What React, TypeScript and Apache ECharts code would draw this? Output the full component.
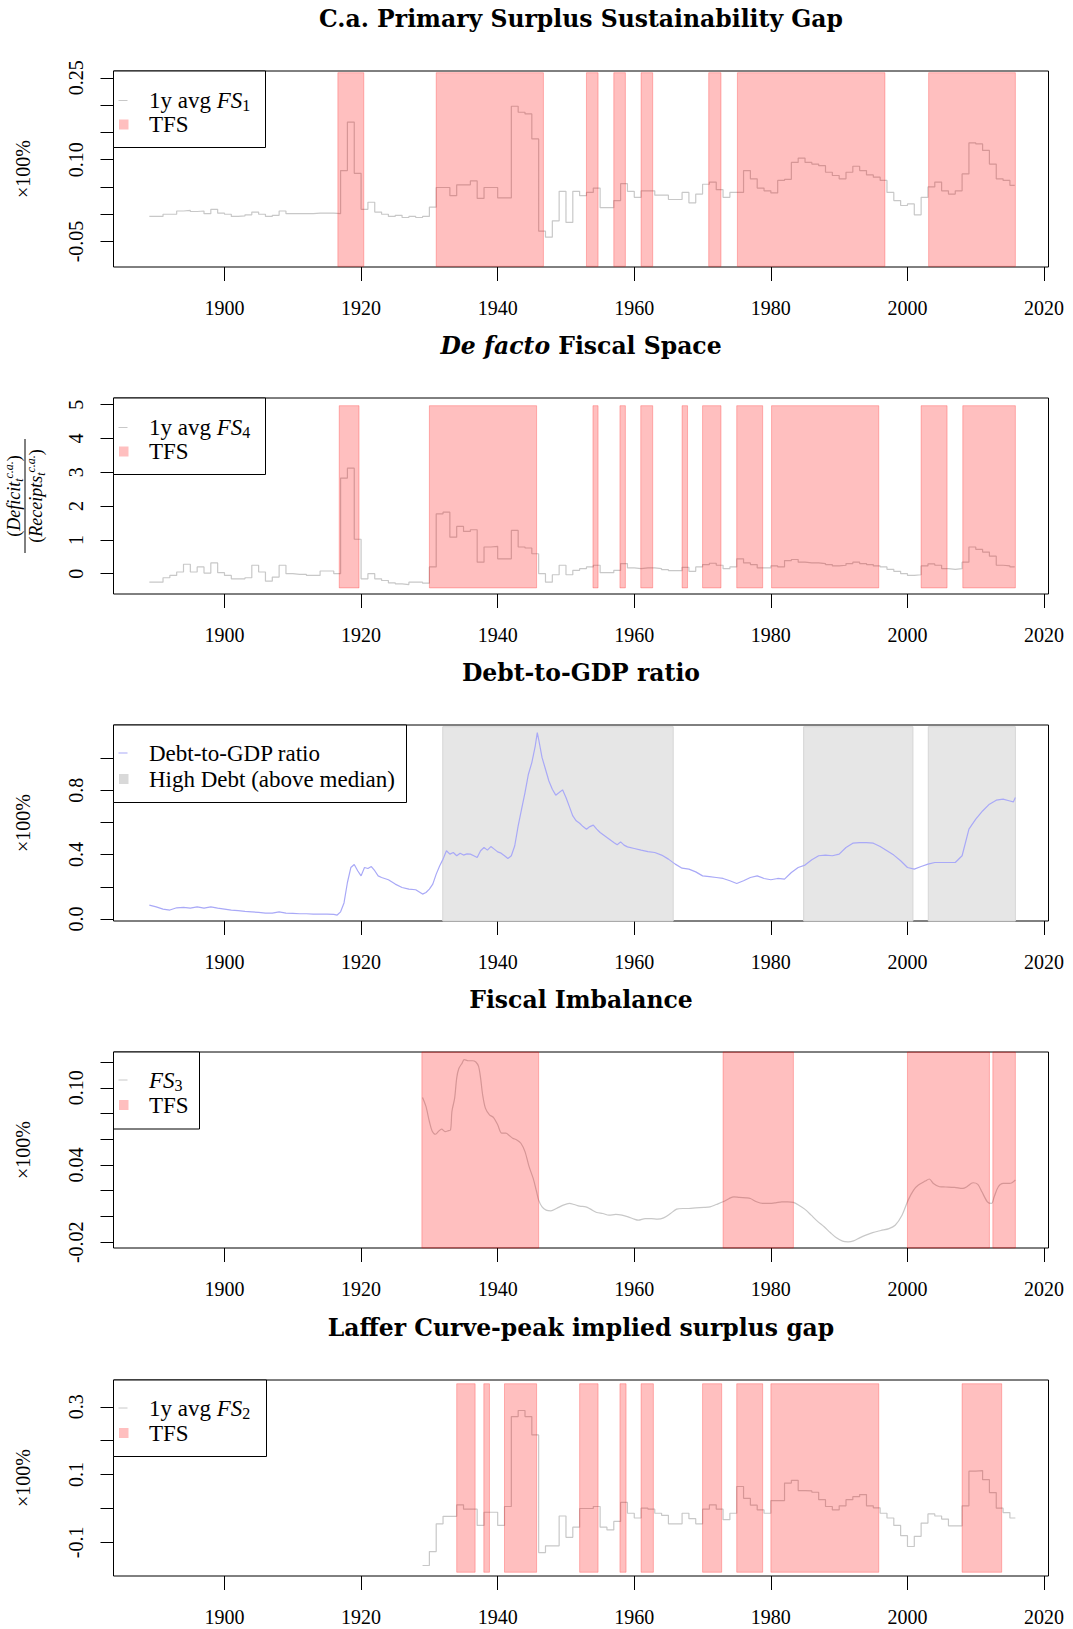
import { useEffect, useRef } from "react";
import * as echarts from "echarts";

const FONT = "'Liberation Serif', 'Times New Roman', serif";
const TITLE_FONT = "'DejaVu Serif', serif";

const X_MIN = 1883.75;
const X_MAX = 2020.65;
const X_TICKS = [1900, 1920, 1940, 1960, 1980, 2000, 2020];

// Panel 1: 1y avg FS1 (annual, from 1889)
const FS1_START = 1889;
const fs1 = [
  -0.004, -0.004, 0.0, 0.0, 0.006, 0.007, 0.005, 0.006, 0.001, 0.009, 0.002,
  0.0, -0.004, -0.003, -0.001, 0.004, 0.0, -0.004, -0.002, 0.006, 0.001,
  0.001, 0.001, 0.001, 0.002, 0.002, 0.002, 0.001, 0.08, 0.169, 0.075,
  0.009, 0.022, 0.004, 0.0, -0.004, -0.002, -0.006, -0.004, -0.006, -0.004,
  0.013, 0.049, 0.049, 0.034, 0.054, 0.054, 0.061, 0.029, 0.049, 0.049,
  0.03, 0.03, 0.198, 0.187, 0.184, 0.138, -0.031, -0.042, -0.012, 0.042,
  -0.015, 0.042, 0.034, 0.04, 0.048, 0.012, 0.012, 0.025, 0.056, 0.042,
  0.031, 0.043, 0.043, 0.035, 0.035, 0.027, 0.027, 0.04, 0.021, 0.037,
  0.055, 0.059, 0.045, 0.031, 0.04, 0.04, 0.08, 0.065, 0.048, 0.043,
  0.039, 0.062, 0.064, 0.095, 0.103, 0.095, 0.092, 0.089, 0.077, 0.071,
  0.065, 0.077, 0.088, 0.08, 0.072, 0.068, 0.062, 0.04, 0.025, 0.016,
  0.019, -0.001, 0.031, 0.05, 0.059, 0.043, 0.037, 0.043, 0.074, 0.131,
  0.129, 0.117, 0.092, 0.065, 0.062, 0.053,
];
const tfs1 = [
  [1916.6, 1920.4], [1931.0, 1946.7], [1953.0, 1954.7], [1957.0, 1958.7],
  [1961.0, 1962.7], [1970.9, 1972.7], [1975.1, 1996.7], [2003.1, 2015.8],
];

// Panel 2: 1y avg FS4 (annual, from 1889)
const FS4_START = 1889;
const fs4 = [
  -0.25, -0.25, -0.12, -0.05, 0.05, 0.28, 0.05, 0.2, 0.02, 0.32, 0.03,
  -0.05, -0.15, -0.15, -0.12, 0.25, 0.05, -0.22, -0.1, 0.25, 0.0,
  -0.02, -0.02, -0.05, -0.05, 0.08, 0.08, 0.0, 2.83, 3.12, 1.02,
  -0.15, 0.0, -0.15, -0.2, -0.27, -0.3, -0.32, -0.25, -0.25, -0.28,
  0.2, 1.77, 1.82, 1.08, 1.4, 1.25, 1.3, 0.34, 0.79, 0.81,
  0.44, 0.44, 1.28, 0.79, 0.76, 0.59, 0.0, -0.25, -0.03, 0.25,
  -0.03, 0.1, 0.15, 0.2, 0.25, 0.03, 0.03, 0.1, 0.3, 0.17,
  0.15, 0.17, 0.17, 0.15, 0.12, 0.09, 0.09, 0.19, 0.07, 0.2,
  0.27, 0.31, 0.25, 0.15, 0.2, 0.44, 0.32, 0.27, 0.17, 0.17,
  0.23, 0.2, 0.39, 0.42, 0.34, 0.32, 0.32, 0.3, 0.27, 0.23,
  0.25, 0.3, 0.34, 0.3, 0.27, 0.23, 0.2, 0.13, 0.07, 0.0,
  -0.05, -0.03, 0.23, 0.29, 0.25, 0.15, 0.13, 0.15, 0.34, 0.79,
  0.72, 0.64, 0.52, 0.25, 0.23, 0.2,
];
const tfs4 = [
  [1916.8, 1919.7], [1930.0, 1945.7], [1953.95, 1954.7], [1957.9, 1958.7],
  [1960.95, 1962.7], [1967.0, 1967.8], [1970.0, 1972.7], [1975.0, 1978.8],
  [1980.1, 1995.8], [2002.0, 2005.8], [2008.1, 2015.8],
];

// Panel 3: Debt-to-GDP ratio
const debtYears = [
  1889, 1890, 1891, 1892, 1893, 1894, 1895, 1896, 1897, 1898, 1899, 1900,
  1901, 1902, 1903, 1904, 1905, 1906, 1907, 1908, 1909, 1910, 1911, 1912,
  1913, 1914, 1915, 1916, 1916.5, 1917, 1917.5, 1918, 1918.5, 1919, 1919.5,
  1920, 1920.5, 1921, 1921.5, 1922, 1922.5, 1923, 1924, 1925, 1926, 1927,
  1928, 1929, 1929.5, 1930, 1930.5, 1931, 1931.5, 1932, 1932.5, 1933,
  1933.5, 1934, 1934.5, 1935, 1935.5, 1936, 1936.5, 1937, 1937.5, 1938,
  1938.5, 1939, 1939.5, 1940, 1940.5, 1941, 1941.5, 1942, 1942.5, 1943,
  1943.5, 1944, 1944.5, 1945, 1945.5, 1945.8, 1946, 1946.5, 1947, 1947.5,
  1948, 1948.5, 1949, 1949.5, 1950, 1950.5, 1951, 1951.5, 1952, 1952.5,
  1953, 1953.5, 1954, 1954.5, 1955, 1956, 1957, 1957.5, 1958, 1958.5, 1959,
  1960, 1961, 1962, 1963, 1964, 1965, 1966, 1967, 1968, 1969, 1970, 1971,
  1972, 1973, 1974, 1975, 1976, 1977, 1978, 1979, 1980, 1981, 1982, 1983,
  1984, 1985, 1986, 1987, 1988, 1989, 1990, 1991, 1992, 1993, 1994, 1995,
  1996, 1997, 1998, 1999, 2000, 2001, 2002, 2003, 2004, 2005, 2006, 2007,
  2008, 2009, 2010, 2011, 2012, 2013, 2014, 2015, 2015.5, 2015.8,
];
const debtValues = [
  0.087, 0.076, 0.062, 0.056, 0.07, 0.072, 0.068, 0.076, 0.068, 0.076, 0.068,
  0.062, 0.056, 0.052, 0.048, 0.045, 0.041, 0.037, 0.037, 0.045, 0.037,
  0.035, 0.033, 0.033, 0.031, 0.031, 0.031, 0.029, 0.025, 0.045, 0.1,
  0.227, 0.32, 0.339, 0.3, 0.268, 0.32, 0.314, 0.326, 0.3, 0.268, 0.258,
  0.244, 0.217, 0.196, 0.186, 0.182, 0.155, 0.165, 0.186, 0.217, 0.279,
  0.33, 0.372, 0.424, 0.403, 0.413, 0.393, 0.409, 0.397, 0.405, 0.403,
  0.393, 0.382, 0.424, 0.444, 0.428, 0.45, 0.434, 0.417, 0.409, 0.393,
  0.376, 0.393, 0.455, 0.579, 0.682, 0.785, 0.899, 0.971, 1.074, 1.157,
  1.116, 1.002, 0.93, 0.857, 0.806, 0.769, 0.785, 0.802, 0.754, 0.698,
  0.64, 0.61, 0.595, 0.574, 0.558, 0.574, 0.583, 0.558, 0.537, 0.506,
  0.475, 0.461, 0.479, 0.459, 0.448, 0.438, 0.428, 0.419, 0.413, 0.397,
  0.372, 0.341, 0.316, 0.31, 0.293, 0.268, 0.264, 0.258, 0.252, 0.238,
  0.221, 0.238, 0.258, 0.268, 0.252, 0.244, 0.252, 0.248, 0.289, 0.32,
  0.335, 0.368, 0.393, 0.397, 0.393, 0.403, 0.444, 0.471, 0.475, 0.475,
  0.471, 0.45, 0.424, 0.397, 0.362, 0.32, 0.31, 0.326, 0.341, 0.351,
  0.351, 0.351, 0.351, 0.393, 0.558, 0.62, 0.671, 0.713, 0.738, 0.744,
  0.733, 0.727, 0.754,
];
const highDebt = [[1931.96, 1965.7], [1984.8, 2000.8], [2003.05, 2015.8]];

// Panel 4: FS3
const fs3Years = [
  1929.0, 1929.5, 1930.0, 1930.4, 1930.9, 1931.4, 1931.8, 1932.3, 1932.7,
  1933.1, 1933.3, 1933.7, 1934.0, 1934.3, 1934.8, 1935.1, 1935.7, 1936.3,
  1936.8, 1937.2, 1937.5, 1937.8, 1938.2, 1938.8, 1939.4, 1940.0, 1940.6,
  1941.2, 1941.7, 1942.2, 1942.8, 1943.4, 1944.0, 1944.6, 1945.2, 1945.7,
  1946.0, 1946.5, 1947.1, 1947.8, 1948.6, 1949.6, 1950.5, 1951.2, 1952.0,
  1952.9, 1953.6, 1954.5, 1955.4, 1956.3, 1957.3, 1958.2, 1959.1, 1960.0,
  1960.6, 1961.6, 1962.5, 1963.4, 1964.3, 1965.3, 1966.2, 1967.1, 1968.0,
  1969.0, 1970.2, 1971.1, 1972.0, 1973.0, 1973.9, 1974.6, 1975.4, 1976.4,
  1977.0, 1977.9, 1978.8, 1979.8, 1980.7, 1981.6, 1982.5, 1983.3, 1984.1,
  1985.0, 1985.9, 1986.8, 1987.8, 1988.7, 1989.6, 1990.5, 1991.3, 1992.1,
  1993.0, 1993.9, 1994.9, 1996.1, 1997.3, 1998.2, 1999.2, 2000.1, 2000.9,
  2001.6, 2002.6, 2003.2, 2003.8, 2004.7, 2005.6, 2006.9, 2008.1, 2008.7,
  2009.6, 2010.3, 2010.9, 2011.7, 2012.3, 2012.7, 2013.3, 2014.0, 2014.9,
  2015.3, 2015.8,
];
const fs3Values = [
  0.0925, 0.0855, 0.0738, 0.0665, 0.0639, 0.0665, 0.0678, 0.066, 0.0665,
  0.0673, 0.0816, 0.092, 0.1075, 0.1148, 0.1192, 0.1218, 0.121, 0.121,
  0.12, 0.1166, 0.1075, 0.0945, 0.0842, 0.079, 0.0769, 0.0712, 0.0647,
  0.0647, 0.0629, 0.0608, 0.0595, 0.0569, 0.0504, 0.0387, 0.0296, 0.0192,
  0.0127, 0.0075, 0.0049, 0.0044, 0.0062, 0.0088, 0.0101, 0.0093, 0.008,
  0.0075, 0.0057, 0.0031, 0.0023, 0.001, 0.0016, 0.001, -0.0003, -0.0021,
  -0.0029, -0.0016, -0.0016, -0.0021, -0.0011, 0.0023, 0.0057, 0.0062, 0.0062,
  0.0067, 0.007, 0.0075, 0.0093, 0.0114, 0.014, 0.0153, 0.0148, 0.0145,
  0.014, 0.0114, 0.0101, 0.0101, 0.0106, 0.0114, 0.0114, 0.0109, 0.0088,
  0.0055, 0.001, -0.0036, -0.008, -0.0125, -0.0166, -0.0192, -0.0197, -0.019,
  -0.0166, -0.0145, -0.0125, -0.0109, -0.0094, -0.0068, 0.001, 0.0127, 0.0205,
  0.0244, 0.0275, 0.0291, 0.0257, 0.0231, 0.0229, 0.0226, 0.0218, 0.0231,
  0.0262, 0.0249, 0.0192, 0.0114, 0.0101, 0.0153, 0.0231, 0.0257, 0.0257,
  0.0262, 0.0283,
];
const tfs3 = [[1928.9, 1946.0], [1973.0, 1983.3], [2000.0, 2012.0], [2012.5, 2015.8]];

// Panel 5: 1y avg FS2 (annual, from 1929)
const FS2_START = 1929;
const fs2 = [
  -0.168, -0.127, -0.045, -0.023, -0.023, 0.011, -0.002, -0.002, -0.05, -0.011,
  -0.011, -0.05, 0.006, 0.271, 0.289, 0.271, 0.217, -0.13, -0.11, -0.11,
  -0.022, -0.085, -0.055, 0.0, 0.0, 0.006, -0.055, -0.063, -0.038, 0.018,
  -0.014, -0.028, 0.001, -0.002, -0.014, -0.02, -0.045, -0.045, -0.014, -0.03,
  -0.045, -0.002, 0.011, -0.002, -0.033, -0.014, 0.065, 0.03, 0.01, -0.004,
  -0.014, 0.023, 0.023, 0.075, 0.083, 0.053, 0.052, 0.048, 0.026, 0.006,
  -0.004, 0.008, 0.026, 0.035, 0.041, 0.008, 0.002, -0.014, -0.028, -0.05,
  -0.08, -0.112, -0.082, -0.043, -0.016, -0.022, -0.031, -0.051, -0.051, 0.008,
  0.11, 0.112, 0.085, 0.047, 0.001, -0.012, -0.028,
];
const tfs2 = [
  [1934.0, 1936.7], [1937.97, 1938.8], [1941.0, 1945.7], [1952.0, 1954.7],
  [1957.9, 1958.8], [1961.0, 1962.8], [1970.0, 1972.8], [1975.0, 1978.8],
  [1980.0, 1995.8], [2008.0, 2013.8],
];

const GRID_LEFT = 113.5;
const GRID_W = 935;
const GRID_H = 196;
const PANEL_TOPS = [71, 398, 725, 1052, 1380];

const GRAY = "#c8c8c8";
const PINK_FILL = "rgba(255,0,0,0.25)";
const PINK_STROKE = "rgba(255,0,0,0.25)";
const BLUE = "#a9a9f7";

const panels = [
  { yMin: -0.0967, yMax: 0.2626, ticks: [-0.05, 0, 0.05, 0.1, 0.15, 0.2, 0.25], labels: [-0.05, 0.1, 0.25], dec: 2, rectLo: -0.0955, rectHi: 0.2595 },
  { yMin: -0.6, yMax: 5.197, ticks: [0, 1, 2, 3, 4, 5], labels: [0, 1, 2, 3, 4, 5], dec: 0, rectLo: -0.42, rectHi: 4.97 },
  { yMin: -0.012, yMax: 1.2045, ticks: [0, 0.2, 0.4, 0.6, 0.8, 1.0], labels: [0, 0.4, 0.8], dec: 1, rectLo: -0.012, rectHi: 1.194 },
  { yMin: -0.0245, yMax: 0.1278, ticks: [-0.02, 0, 0.02, 0.04, 0.06, 0.08, 0.1, 0.12], labels: [-0.02, 0.04, 0.1], dec: 2, rectLo: -0.0245, rectHi: 0.1278 },
  { yMin: -0.199, yMax: 0.379, ticks: [-0.1, 0, 0.1, 0.2, 0.3], labels: [-0.1, 0.1, 0.3], dec: 1, rectLo: -0.188, rectHi: 0.368 },
];

function stepData(start: number, vals: number[], endX: number) {
  const d = vals.map((v, i) => [start + i, v]);
  d.push([endX, vals[vals.length - 1]]);
  return d;
}

function rectSeries(idx: number, rects: number[][], lo: number, hi: number, fill: string, stroke: string, z: number) {
  return {
    type: "custom",
    xAxisIndex: idx,
    yAxisIndex: idx,
    z,
    silent: true,
    data: rects.map(([a, b]) => [a, b, lo, hi]),
    encode: { x: [0, 1], y: [2, 3] },
    renderItem: (_p: any, api: any) => {
      const p1 = api.coord([api.value(0), api.value(3)]);
      const p2 = api.coord([api.value(1), api.value(2)]);
      return {
        type: "rect",
        shape: { x: p1[0], y: p1[1], width: p2[0] - p1[0], height: p2[1] - p1[1] },
        style: { fill, stroke, lineWidth: 1 },
      };
    },
  };
}

const LEG_FS = 23;
const legRich = {
  n: { fontFamily: FONT, fontSize: LEG_FS, lineHeight: 26, fill: "#000" },
  i: { fontFamily: FONT, fontSize: LEG_FS, fontStyle: "italic", lineHeight: 26, fill: "#000" },
  s: { fontFamily: FONT, fontSize: 16, lineHeight: 14, verticalAlign: "bottom", fill: "#000" },
};

function legend(x0: number, y0: number, w: number, h: number, rows: any[]) {
  const els: any[] = [
    { type: "rect", shape: { x: x0, y: y0, width: w, height: h }, style: { fill: "#fff", stroke: "#000", lineWidth: 1 }, z: 100 },
  ];
  rows.forEach((r) => {
    if (r.kind === "line") {
      els.push({ type: "line", shape: { x1: x0 + 5, y1: r.y, x2: x0 + 14, y2: r.y }, style: { stroke: r.color, lineWidth: 1 }, z: 101 });
    } else {
      els.push({ type: "rect", shape: { x: x0 + 5.5, y: r.y - 5, width: 9.5, height: 10 }, style: { fill: r.color }, z: 101 });
    }
    els.push({
      type: "text",
      x: x0 + 35.5,
      y: r.y,
      z: 101,
      style: { text: r.text, rich: legRich, fontFamily: FONT, fontSize: LEG_FS, fill: "#000", align: "left", verticalAlign: "middle" },
    });
  });
  return els;
}

const TITLES = [
  "{b|C.a. Primary Surplus Sustainability Gap}",
  "{bi|De facto}{b| Fiscal Space}",
  "{b|Debt-to-GDP ratio}",
  "{b|Fiscal Imbalance}",
  "{b|Laffer Curve-peak implied surplus gap}",
];
const TITLE_FS = 23.5;

export default function App() {
  const ref = useRef<HTMLDivElement>(null);
  useEffect(() => {
    if (!ref.current) return;
    const chart = echarts.init(ref.current, undefined, { renderer: "svg" });

    const grids = PANEL_TOPS.map((top) => ({
      left: GRID_LEFT, top, width: GRID_W, height: GRID_H, show: true,
      borderColor: "#000", borderWidth: 1, backgroundColor: "transparent",
    }));

    const xAxes = PANEL_TOPS.map((_t, i) => ({
      type: "value", gridIndex: i, min: X_MIN, max: X_MAX, position: "bottom",
      axisLine: { show: false, onZero: false }, splitLine: { show: false },
      axisTick: { show: true, length: 14, customValues: X_TICKS, lineStyle: { color: "#000", width: 1 } },
      axisLabel: { customValues: X_TICKS, margin: 31, fontSize: 20, fontFamily: FONT, color: "#000", formatter: (v: number) => String(Math.round(v)) },
    }));

    const yAxes = panels.map((p, i) => ({
      type: "value", gridIndex: i, min: p.yMin, max: p.yMax, position: "left",
      axisLine: { show: false, onZero: false }, splitLine: { show: false },
      axisTick: { show: true, length: 13, customValues: p.ticks, lineStyle: { color: "#000", width: 1 } },
      axisLabel: { customValues: p.labels, rotate: 90, margin: 28, fontSize: 20, fontFamily: FONT, color: "#000", formatter: (v: number) => v.toFixed(p.dec) },
    }));

    const series: any[] = [
      { type: "line", xAxisIndex: 0, yAxisIndex: 0, z: 2, step: "end", symbol: "none", lineStyle: { color: GRAY, width: 1.2 }, data: stepData(FS1_START, fs1, 2015.7) },
      rectSeries(0, tfs1, panels[0].rectLo, panels[0].rectHi, PINK_FILL, PINK_STROKE, 3),
      { type: "line", xAxisIndex: 1, yAxisIndex: 1, z: 2, step: "end", symbol: "none", lineStyle: { color: GRAY, width: 1.2 }, data: stepData(FS4_START, fs4, 2015.7) },
      rectSeries(1, tfs4, panels[1].rectLo, panels[1].rectHi, PINK_FILL, PINK_STROKE, 3),
      rectSeries(2, highDebt, panels[2].rectLo, panels[2].rectHi, "#e6e6e6", "#d6d6d6", 1),
      { type: "line", xAxisIndex: 2, yAxisIndex: 2, z: 2, symbol: "none", lineStyle: { color: BLUE, width: 1.2 }, data: debtYears.map((y, i) => [y, debtValues[i]]) },
      { type: "line", xAxisIndex: 3, yAxisIndex: 3, z: 2, smooth: 0.3, symbol: "none", lineStyle: { color: GRAY, width: 1.2 }, data: fs3Years.map((y, i) => [y, fs3Values[i]]) },
      rectSeries(3, tfs3, panels[3].rectLo, panels[3].rectHi, PINK_FILL, PINK_STROKE, 3),
      { type: "line", xAxisIndex: 4, yAxisIndex: 4, z: 2, step: "end", symbol: "none", lineStyle: { color: GRAY, width: 1.2 }, data: stepData(FS2_START, fs2, 2015.8) },
      rectSeries(4, tfs2, panels[4].rectLo, panels[4].rectHi, PINK_FILL, PINK_STROKE, 3),
    ];

    const graphics: any[] = [];
    const cx = GRID_LEFT + GRID_W / 2;
    TITLES.forEach((t, i) => {
      graphics.push({
        type: "text", x: cx, y: PANEL_TOPS[i] - 52, z: 100,
        style: {
          text: t, align: "center", verticalAlign: "middle",
          rich: {
            b: { fontFamily: TITLE_FONT, fontWeight: "bold", fontSize: TITLE_FS, fill: "#000" },
            bi: { fontFamily: TITLE_FONT, fontWeight: "bold", fontStyle: "italic", fontSize: TITLE_FS, fill: "#000" },
          },
        },
      });
    });
    [0, 2, 3, 4].forEach((i) => {
      graphics.push({
        type: "text", x: 23, y: PANEL_TOPS[i] + GRID_H / 2, rotation: Math.PI / 2, z: 100,
        style: { text: "×100%", fontFamily: FONT, fontSize: 20, fill: "#000", align: "center", verticalAlign: "middle" },
      });
    });
    const fracRich = {
      p: { fontFamily: FONT, fontSize: 18, lineHeight: 22, fill: "#000" },
      v: { fontFamily: FONT, fontSize: 18, fontStyle: "italic", lineHeight: 22, fill: "#000" },
      sb: { fontFamily: FONT, fontSize: 12, fontStyle: "italic", lineHeight: 11, verticalAlign: "bottom", fill: "#000" },
      sp: { fontFamily: FONT, fontSize: 12, fontStyle: "italic", lineHeight: 11, verticalAlign: "top", fill: "#000" },
    };
    const fy = PANEL_TOPS[1] + GRID_H / 2;
    graphics.push({
      type: "text", x: 14, y: fy, rotation: Math.PI / 2, z: 100,
      style: { text: "{p|(}{v|Deficit}{sb|t}{sp|c.a.}{p|)}", rich: fracRich, align: "center", verticalAlign: "middle" },
    });
    graphics.push({ type: "line", shape: { x1: 25, y1: fy - 57, x2: 25, y2: fy + 57 }, style: { stroke: "#000", lineWidth: 1 }, z: 100 });
    graphics.push({
      type: "text", x: 36, y: fy, rotation: Math.PI / 2, z: 100,
      style: { text: "{p|(}{v|Receipts}{sb|t}{sp|c.a.}{p|)}", rich: fracRich, align: "center", verticalAlign: "middle" },
    });

    graphics.push(...legend(GRID_LEFT, PANEL_TOPS[0], 152, 76.5, [
      { kind: "line", color: GRAY, y: PANEL_TOPS[0] + 29.5, text: "{n|1y avg }{i|FS}{s|1}" },
      { kind: "rect", color: PINK_FILL, y: PANEL_TOPS[0] + 53.5, text: "{n|TFS}" },
    ]));
    graphics.push(...legend(GRID_LEFT, PANEL_TOPS[1], 152, 76.5, [
      { kind: "line", color: GRAY, y: PANEL_TOPS[1] + 29.5, text: "{n|1y avg }{i|FS}{s|4}" },
      { kind: "rect", color: PINK_FILL, y: PANEL_TOPS[1] + 53.5, text: "{n|TFS}" },
    ]));
    graphics.push(...legend(GRID_LEFT, PANEL_TOPS[2], 293, 77.5, [
      { kind: "line", color: BLUE, y: PANEL_TOPS[2] + 28, text: "{n|Debt-to-GDP ratio}" },
      { kind: "rect", color: "#d9d9d9", y: PANEL_TOPS[2] + 54, text: "{n|High Debt (above median)}" },
    ]));
    graphics.push(...legend(GRID_LEFT, PANEL_TOPS[3], 86, 77, [
      { kind: "line", color: GRAY, y: PANEL_TOPS[3] + 28, text: "{i|FS}{s|3}" },
      { kind: "rect", color: PINK_FILL, y: PANEL_TOPS[3] + 53, text: "{n|TFS}" },
    ]));
    graphics.push(...legend(GRID_LEFT, PANEL_TOPS[4], 153, 76.5, [
      { kind: "line", color: GRAY, y: PANEL_TOPS[4] + 28, text: "{n|1y avg }{i|FS}{s|2}" },
      { kind: "rect", color: PINK_FILL, y: PANEL_TOPS[4] + 53, text: "{n|TFS}" },
    ]));

    chart.setOption({
      animation: false,
      backgroundColor: "#fff",
      grid: grids,
      xAxis: xAxes,
      yAxis: yAxes,
      series,
      graphic: graphics,
    });
    return () => chart.dispose();
  }, []);
  return (
    <div
      ref={ref}
      style={{ position: "absolute", left: 0, top: 0, width: 1073, height: 1629, background: "#fff" }}
    />
  );
}
